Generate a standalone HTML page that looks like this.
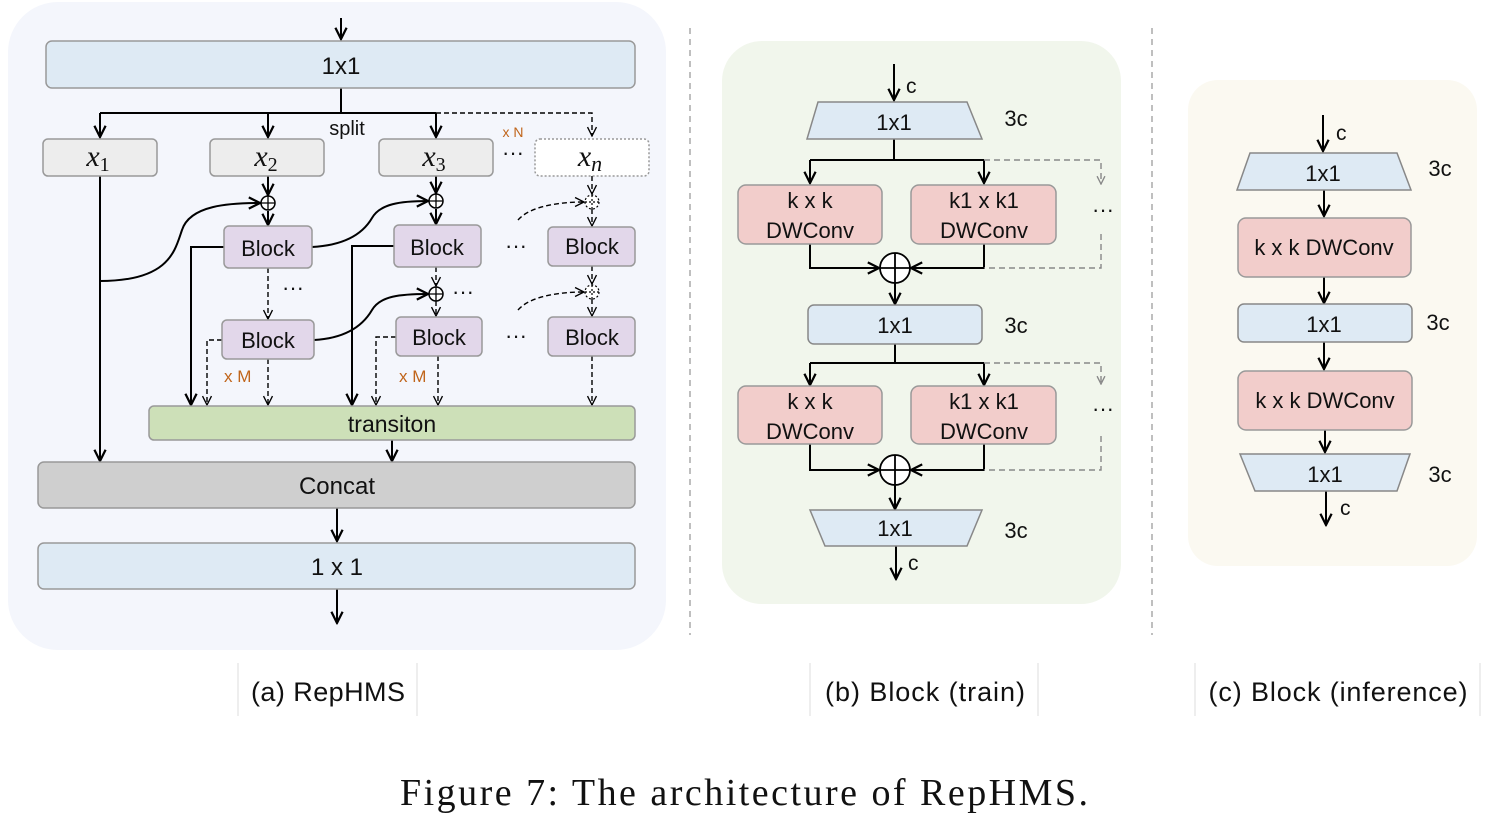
<!DOCTYPE html>
<html><head><meta charset="utf-8"><style>
html,body{margin:0;padding:0;background:#fff;}
svg{display:block;}
text{font-family:"Liberation Sans",sans-serif;fill:#111;}
.m{font-family:"Liberation Serif",serif;font-style:italic;}
</style></head><body>
<svg width="1493" height="816" viewBox="0 0 1493 816" xmlns="http://www.w3.org/2000/svg">
<defs>
<marker id="a" viewBox="0 0 10 10" refX="9" refY="5" markerWidth="7" markerHeight="7" orient="auto"><path d="M1,1 L9,5 L1,9" fill="none" stroke="#000" stroke-width="1.6"/></marker>
<marker id="d" viewBox="0 0 10 10" refX="9" refY="5" markerWidth="8" markerHeight="8" orient="auto"><path d="M1,1 L9,5 L1,9" fill="none" stroke="#000" stroke-width="1.2"/></marker>
<marker id="g" viewBox="0 0 10 10" refX="9" refY="5" markerWidth="7" markerHeight="7" orient="auto"><path d="M1,1 L9,5 L1,9" fill="none" stroke="#888" stroke-width="1.4"/></marker>
</defs>

<!-- Panel A -->
<rect x="8" y="2" width="658" height="648" rx="50" fill="#f4f6fc"/>
<g stroke="#000" stroke-width="2" fill="none">
<line x1="341" y1="18" x2="341" y2="39" marker-end="url(#a)"/>
<path d="M341 88 V113 M100 113 H436"/>
<line x1="100" y1="113" x2="100" y2="137" marker-end="url(#a)"/>
<line x1="268" y1="113" x2="268" y2="137" marker-end="url(#a)"/>
<line x1="436" y1="113" x2="436" y2="137" marker-end="url(#a)"/>
<line x1="100" y1="176" x2="100" y2="461" marker-end="url(#a)"/>
<line x1="268" y1="176" x2="268" y2="195" marker-end="url(#a)"/>
<line x1="268" y1="211" x2="268" y2="225" marker-end="url(#a)"/>
<line x1="436" y1="176" x2="436" y2="193" marker-end="url(#a)"/>
<line x1="436" y1="209" x2="436" y2="224" marker-end="url(#a)"/>
<path d="M100 281 C170 281 175 250 182 230 C190 205 230 203 260 203" marker-end="url(#a)"/>
<path d="M312 247 C350 245 365 230 372 218 C380 204 400 201 428 201" marker-end="url(#a)"/>
<path d="M314 340 C350 338 365 322 372 310 C380 296 400 294 428 294" marker-end="url(#a)"/>
<path d="M224 247 H191 V405" marker-end="url(#a)"/>
<path d="M394 246 H352 V405" marker-end="url(#a)"/>
<line x1="392" y1="440" x2="392" y2="461" marker-end="url(#a)"/>
<line x1="337" y1="508" x2="337" y2="541" marker-end="url(#a)"/>
<line x1="337" y1="589" x2="337" y2="623" marker-end="url(#a)"/>
</g>
<g stroke="#000" stroke-width="1.4" fill="none" stroke-dasharray="5,3">
<path d="M436 113 H592 V136" marker-end="url(#d)"/>
<line x1="592" y1="176" x2="592" y2="194" marker-end="url(#d)"/>
<line x1="592" y1="209" x2="592" y2="226" marker-end="url(#d)"/>
<line x1="268" y1="268" x2="268" y2="319" marker-end="url(#d)"/>
<line x1="436" y1="267" x2="436" y2="286" marker-end="url(#d)"/>
<line x1="436" y1="301" x2="436" y2="316" marker-end="url(#d)"/>
<line x1="592" y1="266" x2="592" y2="284" marker-end="url(#d)"/>
<line x1="592" y1="299" x2="592" y2="316" marker-end="url(#d)"/>
<path d="M222 340 H207 V405" marker-end="url(#d)"/>
<path d="M396 337 H376 V405" marker-end="url(#d)"/>
<line x1="268" y1="359" x2="268" y2="405" marker-end="url(#d)"/>
<line x1="438" y1="356" x2="438" y2="405" marker-end="url(#d)"/>
<line x1="592" y1="356" x2="592" y2="405" marker-end="url(#d)"/>
<path d="M518 220 C530 206 560 202 584 202" marker-end="url(#d)"/>
<path d="M518 310 C530 296 560 292 584 292" marker-end="url(#d)"/>
</g>
<rect x="46" y="41" width="589" height="47" rx="6" fill="#deeaf4" stroke="#999" stroke-width="1.5"/>
<text x="341" y="74" font-size="24" text-anchor="middle">1x1</text>
<text x="347" y="135" font-size="20" text-anchor="middle">split</text>
<text x="513" y="137" font-size="14" style="fill:#c0651b" text-anchor="middle">x N</text>
<g stroke="#999" stroke-width="1.5" fill="#ededed">
<rect x="43" y="139" width="114" height="37" rx="5"/>
<rect x="210" y="139" width="114" height="37" rx="5"/>
<rect x="379" y="139" width="114" height="37" rx="5"/>
</g>
<rect x="535" y="139" width="114" height="37" rx="5" fill="#fff" stroke="#999" stroke-width="1.5" stroke-dasharray="2,2"/>
<text class="m" x="98" y="166" font-size="30" text-anchor="middle">x<tspan font-size="20" font-style="normal" dy="5">1</tspan></text>
<text class="m" x="266" y="166" font-size="30" text-anchor="middle">x<tspan font-size="20" font-style="normal" dy="5">2</tspan></text>
<text class="m" x="434" y="166" font-size="30" text-anchor="middle">x<tspan font-size="20" font-style="normal" dy="5">3</tspan></text>
<text class="m" x="590" y="166" font-size="30" text-anchor="middle">x<tspan font-size="22" dy="5">n</tspan></text>
<g font-size="22" text-anchor="middle"><text x="513" y="160">···</text><text x="516" y="253">···</text><text x="516" y="343">···</text><text x="293" y="295">···</text><text x="463" y="299">···</text></g>
<g fill="#fff" stroke="#000" stroke-width="1.5">
<circle cx="268" cy="203" r="7"/><circle cx="436" cy="201" r="7"/><circle cx="436" cy="294" r="7"/>
</g>
<g stroke="#000" stroke-width="1.3"><path d="M261 203 H275 M268 196 V210 M429 201 H443 M436 194 V208 M429 294 H443 M436 287 V301"/></g>
<g fill="#fff" stroke="#000" stroke-width="1.2" stroke-dasharray="2,2">
<circle cx="592" cy="202" r="7"/><circle cx="592" cy="292" r="7"/>
<path d="M585 202 H599 M592 195 V209 M585 292 H599 M592 285 V299"/>
</g>
<g fill="#e2d7ea" stroke="#999" stroke-width="1.5">
<rect x="224" y="226" width="88" height="42" rx="5"/>
<rect x="394" y="225" width="87" height="42" rx="5"/>
<rect x="548" y="227" width="87" height="39" rx="5"/>
<rect x="222" y="320" width="92" height="39" rx="5"/>
<rect x="396" y="317" width="86" height="39" rx="5"/>
<rect x="548" y="317" width="87" height="39" rx="5"/>
</g>
<g font-size="22" text-anchor="middle">
<text x="268" y="256">Block</text><text x="437" y="255">Block</text><text x="592" y="254">Block</text>
<text x="268" y="348">Block</text><text x="439" y="345">Block</text><text x="592" y="345">Block</text>
</g>
<g font-size="17"><text x="224" y="382" style="fill:#c0651b">x M</text><text x="399" y="382" style="fill:#c0651b">x M</text></g>
<rect x="149" y="406" width="486" height="34" rx="5" fill="#cde0b8" stroke="#999" stroke-width="1.5"/>
<text x="392" y="432" font-size="23" text-anchor="middle">transiton</text>
<rect x="38" y="462" width="597" height="46" rx="6" fill="#cfcfcf" stroke="#999" stroke-width="1.5"/>
<text x="337" y="494" font-size="24" text-anchor="middle">Concat</text>
<rect x="38" y="543" width="597" height="46" rx="6" fill="#deeaf4" stroke="#999" stroke-width="1.5"/>
<text x="337" y="575" font-size="24" text-anchor="middle">1 x 1</text>

<!-- dividers -->
<g stroke="#aaa" stroke-width="1.5" stroke-dasharray="6,5"><line x1="690" y1="28" x2="690" y2="635"/><line x1="1152" y1="28" x2="1152" y2="635"/></g>

<!-- Panel B -->
<rect x="722" y="41" width="399" height="563" rx="40" fill="#f1f6ec"/>
<g stroke="#000" stroke-width="2" fill="none">
<line x1="894" y1="64" x2="894" y2="100" marker-end="url(#a)"/>
<path d="M894 139 V160 M810 160 H984"/>
<line x1="810" y1="160" x2="810" y2="183" marker-end="url(#a)"/>
<line x1="984" y1="160" x2="984" y2="183" marker-end="url(#a)"/>
<path d="M810 244 V268 H879" marker-end="url(#a)"/>
<path d="M984 244 V268 H911" marker-end="url(#a)"/>
<line x1="895" y1="283" x2="895" y2="304" marker-end="url(#a)"/>
<path d="M895 344 V363 M810 363 H984"/>
<line x1="810" y1="363" x2="810" y2="385" marker-end="url(#a)"/>
<line x1="984" y1="363" x2="984" y2="385" marker-end="url(#a)"/>
<path d="M810 444 V470 H879" marker-end="url(#a)"/>
<path d="M984 444 V470 H911" marker-end="url(#a)"/>
<line x1="895" y1="485" x2="895" y2="509" marker-end="url(#a)"/>
<line x1="896" y1="546" x2="896" y2="579" marker-end="url(#a)"/>
</g>
<g stroke="#888" stroke-width="1.4" fill="none" stroke-dasharray="6,4">
<path d="M984 160 H1101 V184" marker-end="url(#g)"/>
<path d="M1101 234 V268 H984"/>
<path d="M984 363 H1101 V384" marker-end="url(#g)"/>
<path d="M1101 436 V470 H984"/>
</g>
<g fill="#deeaf4" stroke="#888" stroke-width="1.5">
<polygon points="818,102 967,102 982,139 807,139"/>
<rect x="808" y="305" width="174" height="39" rx="6"/>
<polygon points="810,510 982,510 967,546 825,546"/>
</g>
<g fill="#f2cdcb" stroke="#999" stroke-width="1.5">
<rect x="738" y="185" width="144" height="59" rx="8"/><rect x="911" y="185" width="145" height="59" rx="8"/>
<rect x="738" y="386" width="144" height="58" rx="8"/><rect x="911" y="386" width="145" height="58" rx="8"/>
</g>
<g fill="#fff" stroke="#000" stroke-width="1.8">
<circle cx="895" cy="268" r="15"/><circle cx="895" cy="470" r="15"/>
<path d="M880 268 H910 M895 253 V283 M880 470 H910 M895 455 V485"/>
</g>
<g font-size="22" text-anchor="middle">
<text x="894" y="130">1x1</text><text x="895" y="333">1x1</text><text x="895" y="536">1x1</text>
<text x="810" y="208">k x k</text><text x="810" y="238">DWConv</text>
<text x="984" y="208">k1 x k1</text><text x="984" y="238">DWConv</text>
<text x="810" y="409">k x k</text><text x="810" y="439">DWConv</text>
<text x="984" y="409">k1 x k1</text><text x="984" y="439">DWConv</text>
<text x="1016" y="126">3c</text><text x="1016" y="333">3c</text><text x="1016" y="538">3c</text>
<text x="1103" y="217">···</text><text x="1103" y="416">···</text>
</g>
<g font-size="21"><text x="906" y="93">c</text><text x="908" y="570">c</text></g>

<!-- Panel C -->
<rect x="1188" y="80" width="289" height="486" rx="30" fill="#fbf9f1"/>
<g stroke="#000" stroke-width="2" fill="none">
<line x1="1323" y1="115" x2="1323" y2="151" marker-end="url(#a)"/>
<line x1="1324" y1="190" x2="1324" y2="216" marker-end="url(#a)"/>
<line x1="1324" y1="277" x2="1324" y2="303" marker-end="url(#a)"/>
<line x1="1324" y1="342" x2="1324" y2="369" marker-end="url(#a)"/>
<line x1="1325" y1="430" x2="1325" y2="452" marker-end="url(#a)"/>
<line x1="1326" y1="491" x2="1326" y2="525" marker-end="url(#a)"/>
</g>
<g fill="#deeaf4" stroke="#888" stroke-width="1.5">
<polygon points="1250,153 1397,153 1411,190 1237,190"/>
<rect x="1238" y="304" width="174" height="38" rx="6"/>
<polygon points="1240,454 1410,454 1397,491 1255,491"/>
</g>
<g fill="#f2cdcb" stroke="#999" stroke-width="1.5">
<rect x="1238" y="218" width="173" height="59" rx="8"/><rect x="1238" y="371" width="174" height="59" rx="8"/>
</g>
<g font-size="22" text-anchor="middle">
<text x="1323" y="181">1x1</text><text x="1324" y="332">1x1</text><text x="1325" y="482">1x1</text>
<text x="1324" y="255">k x k DWConv</text><text x="1325" y="408">k x k DWConv</text>
<text x="1440" y="176">3c</text><text x="1438" y="330">3c</text><text x="1440" y="482">3c</text>
</g>
<g font-size="21"><text x="1336" y="140">c</text><text x="1340" y="515">c</text></g>

<!-- captions -->
<g stroke="#ddd" stroke-width="1"><path d="M238 663 V716 M417 663 V716 M810 663 V716 M1038 663 V716 M1195 663 V716 M1480 663 V716"/></g>
<g font-size="27" text-anchor="middle"><text x="328" y="701" textLength="154">(a) RepHMS</text><text x="925" y="701" textLength="200">(b) Block (train)</text><text x="1338" y="701" textLength="259">(c) Block (inference)</text></g>
<text x="400" y="805" font-size="38" textLength="688" lengthAdjust="spacing" style="font-family:'Liberation Serif',serif">Figure 7:  The architecture of RepHMS.</text>
</svg>
</body></html>
